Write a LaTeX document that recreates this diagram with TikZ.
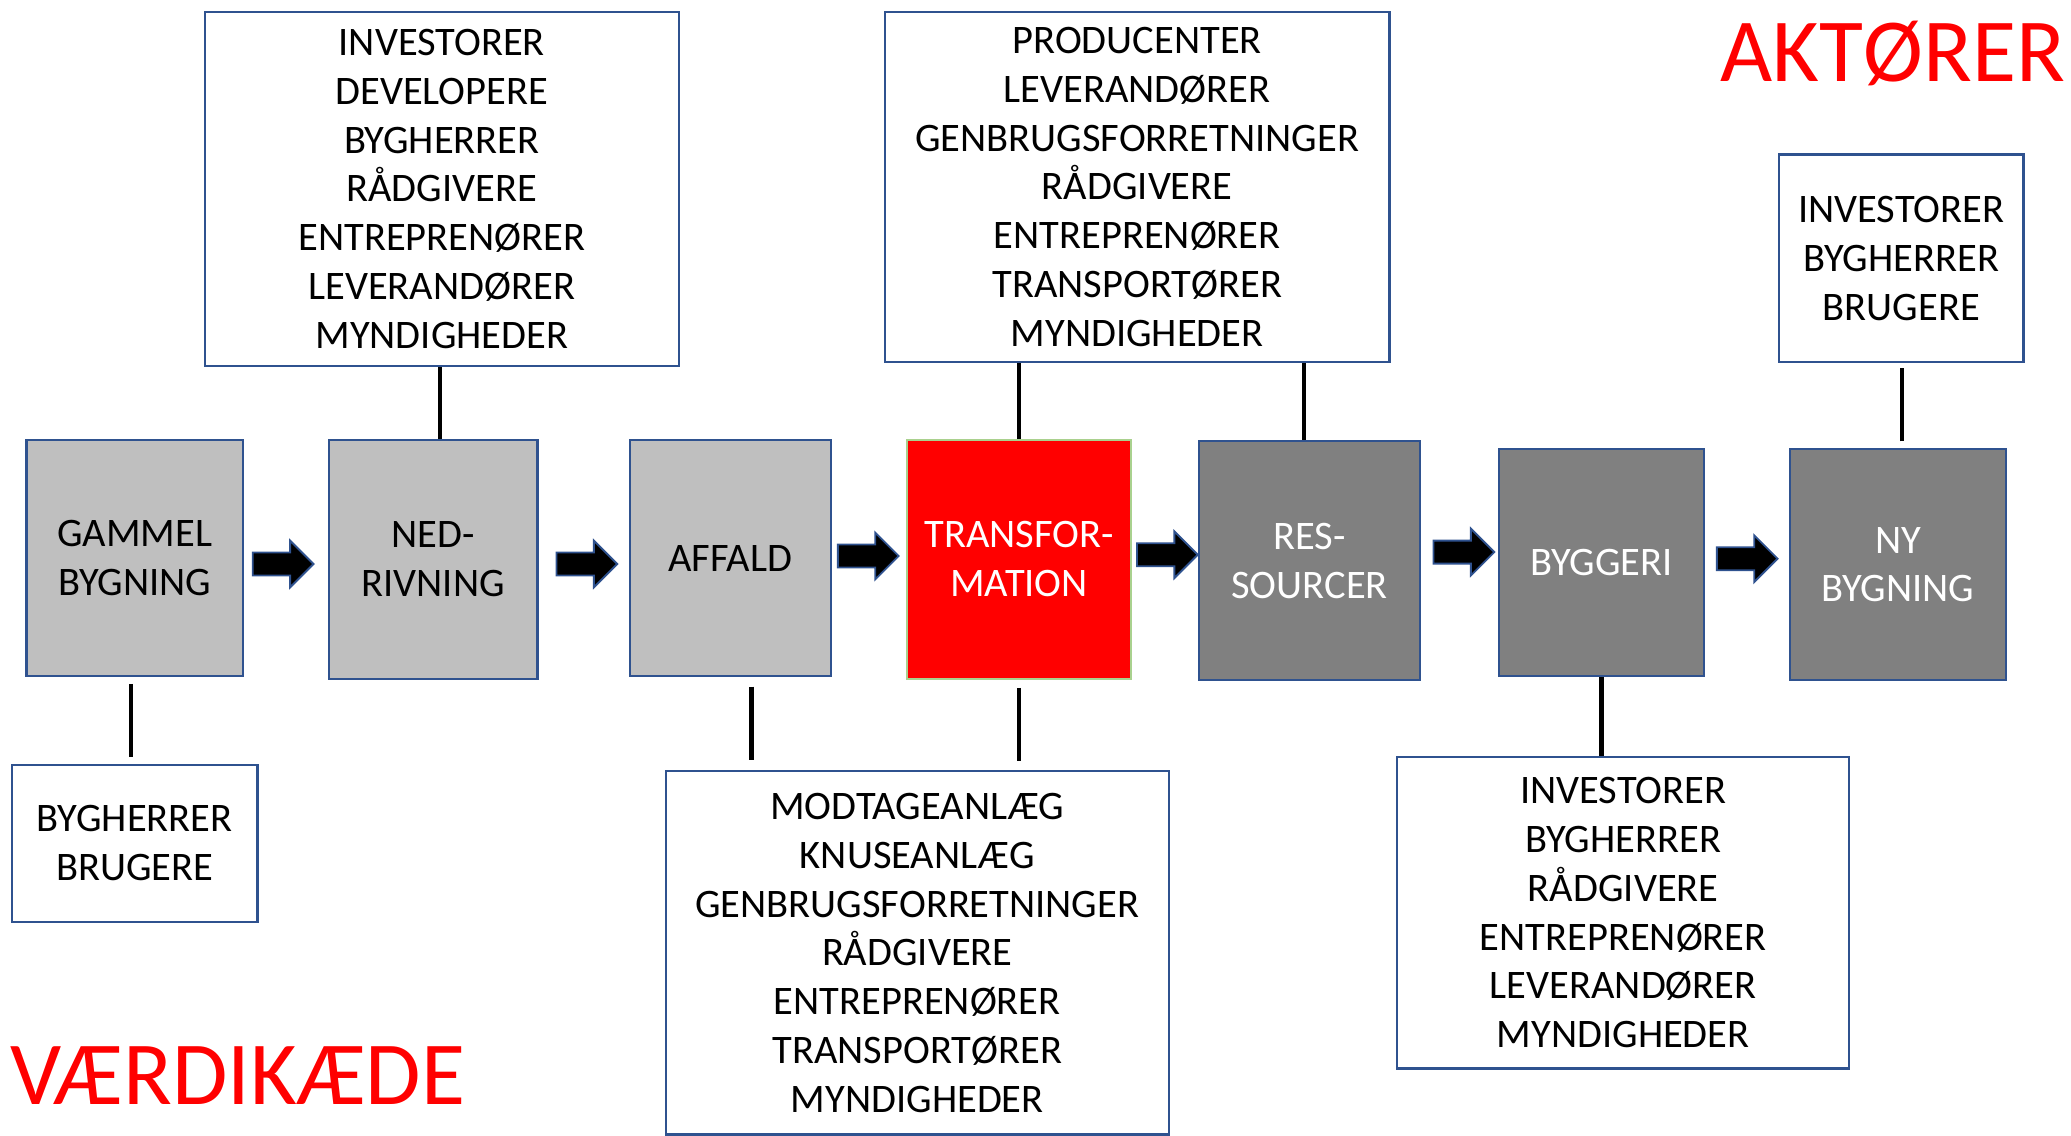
\documentclass[tikz,border=0pt]{standalone}
\usepackage{fontspec}
\setmainfont{Carlito}
\usetikzlibrary{shapes.arrows}
\definecolor{boxblue}{HTML}{2F528F}
\definecolor{lightgrey}{HTML}{BFBFBF}
\definecolor{darkgrey}{HTML}{808080}
\definecolor{boxgreen}{HTML}{A9D18E}

\begin{document}
\begin{tikzpicture}[x=0.025cm,y=-0.025cm,
    every node/.style={font=\fontsize{21.8}{26.3}\selectfont,align=center,inner sep=0pt},
    actor/.style={draw=boxblue,line width=1.2pt,fill=white},
    stage/.style={draw=boxblue,line width=1.2pt,fill=lightgrey},
    darkstage/.style={stage,fill=darkgrey,text=white},
    flow/.style={single arrow,fill=black,draw=boxblue,line width=1pt,inner xsep=0pt,inner ysep=0.2cm,
        minimum height=1.15cm,single arrow head extend=0.225cm},
    link/.style={line width=2.2pt},
    title/.style={text=red,font=\fontsize{48.5}{58}\selectfont,anchor=base}]
    \useasboundingbox (0,0) rectangle (1568,860);

    % value chain
    \node[stage,minimum width=4.1cm,minimum height=4.475cm] (gammel) at (102,422.5) {GAMMEL\\BYGNING};
    \node[stage,minimum width=3.95cm,minimum height=4.525cm] (ned) at (328,423.5) {NED-\\RIVNING};
    \node[stage,minimum width=3.8cm,minimum height=4.475cm] (affald) at (553,422.5) {AFFALD};
    \node[stage,fill=red,draw=boxgreen,text=white,minimum width=4.225cm,minimum height=4.525cm] (transf) at (771.5,423.5) {TRANSFOR-\\MATION};
    \node[darkstage,minimum width=4.175cm,minimum height=4.525cm] (res) at (991.5,424.5) {RES-\\SOURCER};
    \node[darkstage,minimum width=3.875cm,minimum height=4.3cm] (byggeri) at (1212.5,426) {BYGGERI};
    \node[darkstage,minimum width=4.1cm,minimum height=4.375cm] (ny) at (1437,427.5) {NY\\BYGNING};

    \node[flow] (p1) at (210,427) {};
    \node[flow] (p2) at (440,427) {};
    \node[flow] (p3) at (653,421) {};
    \node[flow] (p4) at (879.5,420) {};
    \node[flow] (p5) at (1104,418) {};
    \node[flow] (p6) at (1318.5,423) {};

    % actors
    \node[actor,minimum width=8.975cm,minimum height=6.7cm] (a1) at (334.5,143)
        {INVESTORER\\DEVELOPERE\\BYGHERRER\\RÅDGIVERE\\ENTREPRENØRER\\LEVERANDØRER\\MYNDIGHEDER};
    \node[actor,minimum width=4.65cm,minimum height=2.975cm] (a2) at (102,638.5)
        {BYGHERRER\\BRUGERE};
    \node[actor,minimum width=9.55cm,minimum height=6.625cm] (a3) at (861,141.5)
        {PRODUCENTER\\LEVERANDØRER\\GENBRUGSFORRETNINGER\\RÅDGIVERE\\ENTREPRENØRER\\TRANSPORTØRER\\MYNDIGHEDER};
    \node[actor,minimum width=9.525cm,minimum height=6.875cm] (a4) at (694.5,721.5)
        {MODTAGEANLÆG\\KNUSEANLÆG\\GENBRUGSFORRETNINGER\\RÅDGIVERE\\ENTREPRENØRER\\TRANSPORTØRER\\MYNDIGHEDER};
    \node[actor,minimum width=8.55cm,minimum height=5.9cm] (a5) at (1229,691)
        {INVESTORER\\BYGHERRER\\RÅDGIVERE\\ENTREPRENØRER\\LEVERANDØRER\\MYNDIGHEDER};
    \node[actor,minimum width=4.625cm,minimum height=3.925cm] (a6) at (1439.5,195.5)
        {INVESTORER\\BYGHERRER\\BRUGERE};

    \node[title] (aktorer) at (1433,62) {AKTØRER};
    \node[title] (vaerdi) at (180,836) {VÆRDIKÆDE};

    \draw[link]
        ([xshift=0.125cm]ned.north) -- ([xshift=0.125cm]ned.north |- a1.south)
        (transf.north) -- (transf.north |- a3.south)
        ([xshift=-0.11cm]res.north) -- ([xshift=-0.11cm]res.north |- a3.south)
        (byggeri.south) -- (byggeri.south |- a5.north);
    \draw[link,shorten <=0.125cm,shorten >=0.125cm]
        ([xshift=-0.075cm]gammel.south) -- ([xshift=-0.075cm]gammel.south |- a2.north);
    \draw[link,shorten <=0.175cm,shorten >=0.2cm]
        ([xshift=0.4cm]affald.south) -- ([xshift=0.4cm]affald.south |- a4.north);
    \draw[link,shorten <=0.15cm,shorten >=0.175cm]
        (transf.south) -- (transf.south |- a4.north);
    \draw[link,shorten <=0.125cm,shorten >=0.1cm]
        ([xshift=0.075cm]ny.north) -- ([xshift=0.075cm]ny.north |- a6.south);
\end{tikzpicture}
\end{document}
